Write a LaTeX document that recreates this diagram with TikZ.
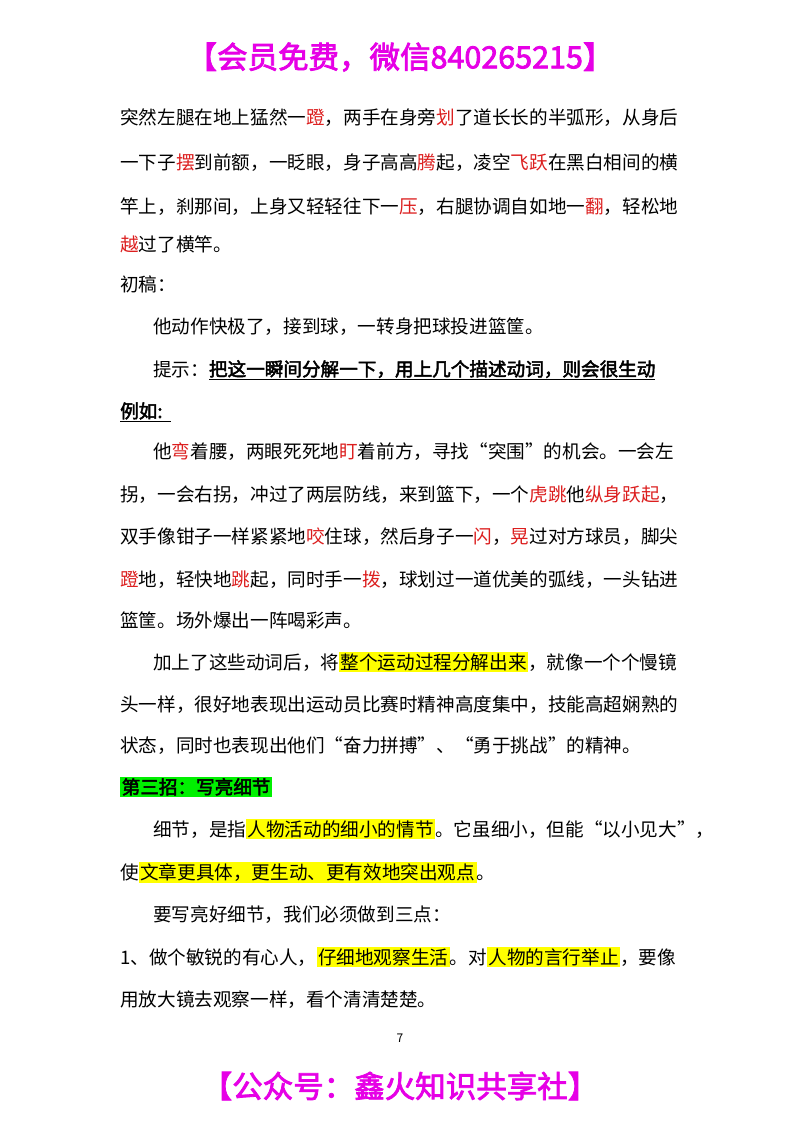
\documentclass[tikz,border=0pt]{standalone}
\usepackage{fontspec}
\usepackage{xcolor}
\setmainfont{Noto Sans CJK SC}[AutoFakeBold=2.5]
\definecolor{vred}{RGB}{220,30,30}
\definecolor{mag}{RGB}{230,0,230}
\definecolor{hy}{RGB}{255,255,0}
\definecolor{hg}{RGB}{0,240,0}
\newcommand{\R}[1]{\textcolor{vred}{#1}}
\newcommand{\HL}[1]{{\setlength{\fboxsep}{1.5pt}\colorbox{hy}{#1}}}
\begin{document}
\begin{tikzpicture}[x=1pt,y=1pt,txt/.style={anchor=base west,inner sep=0pt,font=\fontsize{18.6}{20}\selectfont}]
\useasboundingbox[fill=white] (0,0) rectangle (800,-1132);
\node[anchor=center,inner sep=0pt,font=\fontsize{30.5}{32}\selectfont\bfseries,text=mag] (hd) at (400,-57) {【会员免费，微信840265215】};
\node[txt] (a1) at (120,-124) {突然左腿在地上猛然一\R{蹬}，两手在身旁\R{划}了道长长的半弧形，从身后};
\node[txt] (a2) at (120,-169) {一下子\R{摆}到前额，一眨眼，身子高高\R{腾}起，凌空\R{飞跃}在黑白相间的横};
\node[txt] (a3) at (120,-213) {竿上，刹那间，上身又轻轻往下一\R{压}，右腿协调自如地一\R{翻}，轻松地};
\node[txt] (a4) at (120,-251) {\R{越}过了横竿。};
\node[txt] (b1) at (120,-291) {初稿：};
\node[txt] (b2) at (153,-333) {他动作快极了，接到球，一转身把球投进篮筐。};
\node[txt] (b3) at (153,-376) {提示：\textbf{\underline{把这一瞬间分解一下，用上几个描述动词，则会很生动}}};
\node[txt] (b4) at (120,-418) {\textbf{\underline{例如:\ \ }}};
\node[txt] (c1) at (153,-458) {他\R{弯}着腰，两眼死死地\R{盯}着前方，寻找“突围”的机会。一会左};
\node[txt] (c2) at (120,-501) {拐，一会右拐，冲过了两层防线，来到篮下，一个\R{虎跳}他\R{纵身跃起}，};
\node[txt] (c3) at (120,-543) {双手像钳子一样紧紧地\R{咬}住球，然后身子一\R{闪}，\R{晃}过对方球员，脚尖};
\node[txt] (c4) at (120,-586) {\R{蹬}地，轻快地\R{跳}起，同时手一\R{拨}，球划过一道优美的弧线，一头钻进};
\node[txt] (c5) at (120,-627) {篮筐。场外爆出一阵喝彩声。};
\node[txt] (d1) at (153,-669) {加上了这些动词后，将\HL{整个运动过程分解出来}，就像一个个慢镜};
\node[txt] (d2) at (120,-711) {头一样，很好地表现出运动员比赛时精神高度集中，技能高超娴熟的};
\node[txt] (d3) at (120,-752) {状态，同时也表现出他们“奋力拼搏”、“勇于挑战”的精神。};
\node[txt] (e1) at (120,-794) {{\setlength{\fboxsep}{1.5pt}\colorbox{hg}{\textbf{第三招：写亮细节}}}};
\node[txt] (e2) at (153,-836) {细节，是指\HL{人物活动的细小的情节}。它虽细小，但能“以小见大”，};
\node[txt] (e3) at (120,-879) {使\HL{文章更具体，更生动、更有效地突出观点}。};
\node[txt] (e4) at (153,-921) {要写亮好细节，我们必须做到三点：};
\node[txt] (e5) at (120,-964) {1、做个敏锐的有心人，\HL{仔细地观察生活}。对\HL{人物的言行举止}，要像};
\node[txt] (e6) at (120,-1006) {用放大镜去观察一样，看个清清楚楚。};
\node[anchor=center,inner sep=0pt,font=\fontsize{12}{14}\selectfont] (pg) at (400,-1038) {7};
\node[anchor=center,inner sep=0pt,font=\fontsize{30.5}{32}\selectfont\bfseries,text=mag] (ft) at (400,-1086) {【公众号：鑫火知识共享社】};
\end{tikzpicture}
\end{document}
